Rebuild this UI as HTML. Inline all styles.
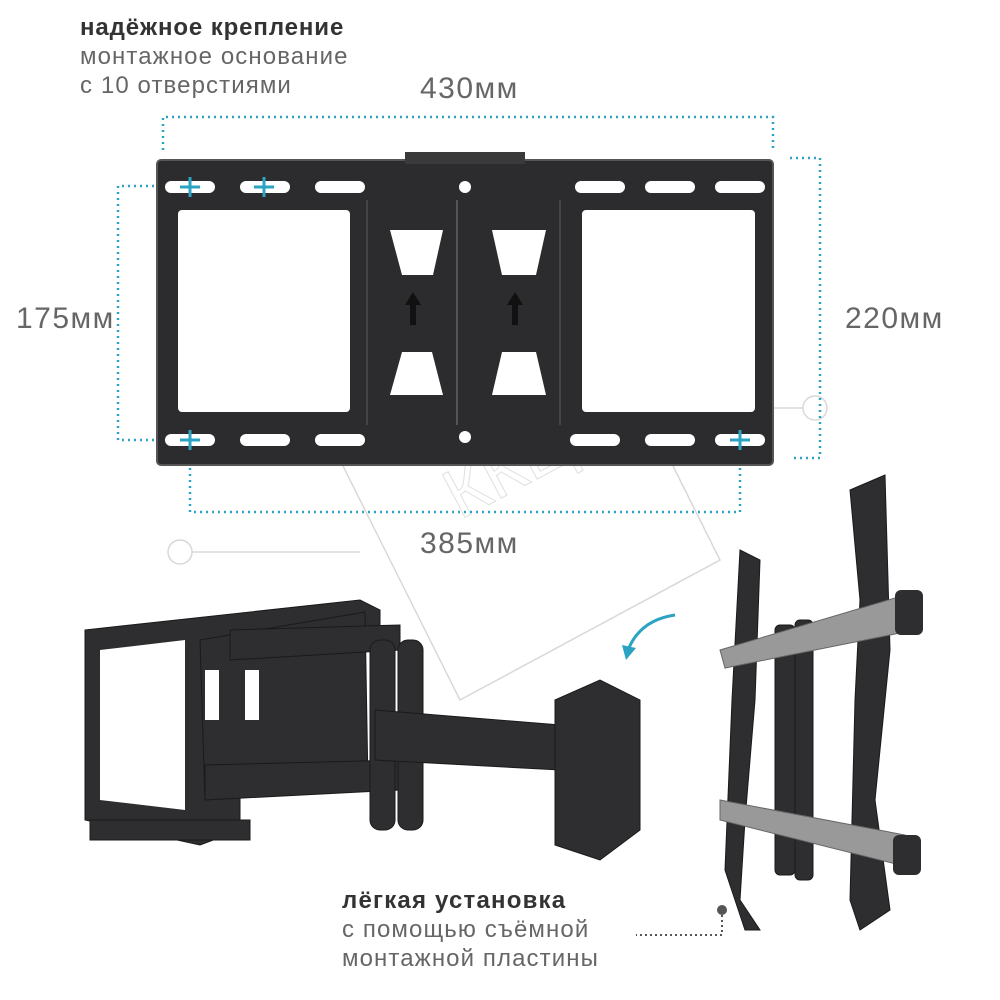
<!DOCTYPE html>
<html><head><meta charset="utf-8"><style>
html,body{margin:0;padding:0;background:#fff}
svg{display:block}
text{font-family:"Liberation Sans",sans-serif}
</style></head><body>
<svg width="1000" height="1000" viewBox="0 0 1000 1000">
<!-- watermark -->
<g fill="none" stroke="#d8d8d8" stroke-width="1.5">
<circle cx="180" cy="552" r="12"/><line x1="192" y1="552" x2="360" y2="552"/>
<circle cx="815" cy="408" r="12"/><line x1="640" y1="408" x2="803" y2="408"/>
<polygon points="330,440 590,300 720,560 460,700"/>
<text x="460" y="520" font-size="70" fill="none" stroke="#e0e0e0" stroke-width="1" transform="rotate(-28 460 520)">ККЦ</text>
</g>
<!-- header text -->
<text x="80" y="35" font-size="24" font-weight="bold" fill="#333" letter-spacing="0.9">надёжное крепление</text>
<text x="80" y="64" font-size="24" fill="#666" letter-spacing="1.1">монтажное основание</text>
<text x="80" y="93" font-size="24" fill="#666" letter-spacing="1.1">с 10 отверстиями</text>
<g font-size="30" fill="#666" letter-spacing="1.5">
<text x="420" y="98">430мм</text>
<text x="845" y="328">220мм</text>
<text x="16" y="328">175мм</text>
<text x="420" y="553">385мм</text>
<text x="192" y="278">50мм</text>
</g>
<!-- dimension lines -->
<g fill="none" stroke="#2ba3c2" stroke-width="2.5" stroke-dasharray="2 4">
<polyline points="163,150 163,117 773,117 773,150"/>
<polyline points="790,158 820,158 820,458 790,458"/>
<polyline points="160,186 118,186 118,440 160,440"/>
<polyline points="190,450 190,512 740,512 740,450"/>
<polyline points="190,215 190,240 266,240 266,215"/>
</g>
<!-- plate -->
<rect x="157" y="160" width="616" height="305" rx="4" fill="#2c2c2e" stroke="#555" stroke-width="2"/>
<rect x="405" y="152" width="120" height="12" fill="#3a3a3a"/>
<rect x="178" y="210" width="172" height="202" rx="4" fill="#fff"/>
<rect x="582" y="210" width="173" height="202" rx="4" fill="#fff"/>
<line x1="457" y1="200" x2="457" y2="425" stroke="#555" stroke-width="2"/>
<line x1="367" y1="200" x2="367" y2="425" stroke="#444" stroke-width="2"/>
<line x1="560" y1="200" x2="560" y2="425" stroke="#444" stroke-width="2"/>
<g fill="#fff">
<rect x="315" y="181" width="50" height="12" rx="6"/>
<rect x="575" y="181" width="50" height="12" rx="6"/>
<rect x="645" y="181" width="50" height="12" rx="6"/>
<rect x="715" y="181" width="50" height="12" rx="6"/>
<rect x="240" y="434" width="50" height="12" rx="6"/>
<rect x="315" y="434" width="50" height="12" rx="6"/>
<rect x="570" y="434" width="50" height="12" rx="6"/>
<rect x="645" y="434" width="50" height="12" rx="6"/>
<rect x="165" y="181" width="50" height="12" rx="6"/>
<rect x="240" y="181" width="50" height="12" rx="6"/>
<rect x="165" y="434" width="50" height="12" rx="6"/>
<rect x="715" y="434" width="50" height="12" rx="6"/>
<circle cx="465" cy="187" r="6"/><circle cx="465" cy="437" r="6"/>
<polygon points="390,230 443,230 433,275 402,275"/>
<polygon points="492,230 546,230 536,275 502,275"/>
<polygon points="402,352 432,352 443,395 390,395"/>
<polygon points="502,352 536,352 546,395 492,395"/>
</g>
<g fill="#111">
<polygon points="413,292 405,305 410,305 410,325 416,325 416,305 421,305"/>
<polygon points="515,292 507,305 512,305 512,325 518,325 518,305 523,305"/>
</g>
<g stroke="#2ba3c2" stroke-width="3">
<path d="M180 187h20M190 177v20M254 187h20M264 177v20M180 440h20M190 430v20M730 440h20M740 430v20"/>
</g>
<!-- arm mount -->
<g fill="#2e2e30" stroke="#1a1a1a">
<polygon points="85,630 360,600 380,610 380,640 240,650 240,830 200,845 85,820"/>
<polygon points="100,650 185,640 185,810 100,800" fill="#fff" stroke="none"/>
<polygon points="200,640 365,612 368,785 205,800"/>
<polygon points="230,630 400,625 400,650 230,660"/>
<polygon points="205,765 400,760 400,790 205,800"/>
<rect x="370" y="640" width="25" height="190" rx="10"/>
<rect x="398" y="640" width="25" height="190" rx="10"/>
<polygon points="375,710 560,725 560,770 375,760"/>
<polygon points="555,700 600,680 640,700 640,830 600,860 555,845"/>
<rect x="90" y="820" width="160" height="20"/>
</g>
<g fill="#fff"><rect x="205" y="670" width="14" height="50"/><rect x="245" y="670" width="14" height="50"/></g>
<path d="M675 615 Q640 620 628 650" fill="none" stroke="#2ba3c2" stroke-width="3"/>
<polygon points="622,645 636,648 626,660" fill="#2ba3c2"/>
<!-- side view -->
<g fill="#2e2e30" stroke="#1a1a1a">
<polygon points="740,550 760,560 755,700 745,820 740,900 760,930 745,930 725,870 732,700"/>
<polygon points="850,490 885,475 890,650 875,800 890,910 860,930 850,900 855,700 860,600"/>
<rect x="775" y="625" width="20" height="250" rx="5"/>
<rect x="795" y="620" width="18" height="260" rx="5"/>
</g>
<g fill="#999" stroke="#666">
<polygon points="720,650 905,595 915,630 725,668"/>
<polygon points="720,800 905,835 900,865 720,820"/>
</g>
<rect x="895" y="590" width="28" height="45" rx="6" fill="#2e2e30"/>
<rect x="893" y="835" width="28" height="40" rx="6" fill="#2e2e30"/>
<!-- bottom text -->
<text x="342" y="908" font-size="24" font-weight="bold" fill="#333" letter-spacing="1.2">лёгкая установка</text>
<text x="342" y="937" font-size="24" fill="#666" letter-spacing="1.1">с помощью съёмной</text>
<text x="342" y="966" font-size="24" fill="#666" letter-spacing="1.1">монтажной пластины</text>
<circle cx="722" cy="910" r="5" fill="#555"/>
<polyline points="722,915 722,935 636,935" fill="none" stroke="#555" stroke-width="2" stroke-dasharray="2 3"/>
</svg>
</body></html>
